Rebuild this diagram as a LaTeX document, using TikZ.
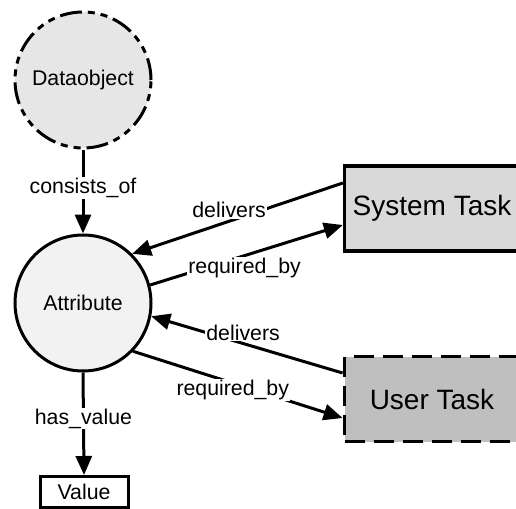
\documentclass[tikz,border=0pt]{standalone}
\usepackage{fontspec}
\setmainfont{Liberation Sans}
\usetikzlibrary{arrows.meta}

\definecolor{objfill}{HTML}{E6E6E6}
\definecolor{attrfill}{HTML}{F2F2F2}
\definecolor{sysfill}{HTML}{D9D9D9}
\definecolor{userfill}{HTML}{BFBFBF}

\tikzset{
  txt/.style={font=\fontsize{21.3}{25}\selectfont},
  bigtxt/.style={font=\fontsize{28}{32}\selectfont},
  entity/.style={circle,draw,line width=3pt,minimum size=136pt,inner sep=0pt,txt},
  taskbox/.style={rectangle,draw,line width=3.3pt,minimum width=175pt,minimum height=85pt,bigtxt},
  conn/.style={line width=3pt,-{Triangle[length=19pt,width=16pt]}},
  lbl/.style={fill=white,inner sep=1pt,txt}
}

\begin{document}
\begin{tikzpicture}[x=1pt,y=-1pt]
  \useasboundingbox (0,0) rectangle (516,508);
  \clip (0,0) rectangle (516,508);

  % nodes
  \node[entity,fill=objfill,dash pattern=on 22pt off 6pt on 7pt off 6pt on 7pt off 6pt] (obj) at (83,80) {Dataobject};
  \node[entity,fill=attrfill] (attr) at (83,303) {Attribute};
  \node[taskbox,fill=sysfill] (sys) at (432,208.5) {System Task};
  \node[taskbox,fill=userfill,line width=3.8pt,dash pattern=on 20pt off 9pt] (user) at (432,399) {User Task};
  \node[rectangle,draw,line width=3pt,minimum width=88pt,minimum height=31pt,inner sep=0pt,txt] (val) at (84,492) {Value};

  % connectors
  \draw[conn] (obj.south) -- node[lbl,pos=0.46] {consists\_of} (attr.north);
  \draw[conn] ([yshift=25.5pt]sys.west) -- node[lbl,pos=0.54,yshift=11pt] {delivers} (attr.45);
  \draw[conn] (attr.15) -- node[lbl,pos=0.49,yshift=-12.5pt] {required\_by} ([yshift=-16.5pt]sys.west);
  \draw[conn] ([yshift=26pt]user.west) -- node[lbl,pos=0.52,yshift=11pt] {delivers} (attr.-11.5);
  \draw[conn] (attr.-44) -- node[lbl,pos=0.476,yshift=-6.6pt] {required\_by} ([yshift=-19pt]user.west);
  \draw[conn] (attr.south) -- node[lbl,pos=0.45] {has\_value} (val.north);
\end{tikzpicture}
\end{document}
